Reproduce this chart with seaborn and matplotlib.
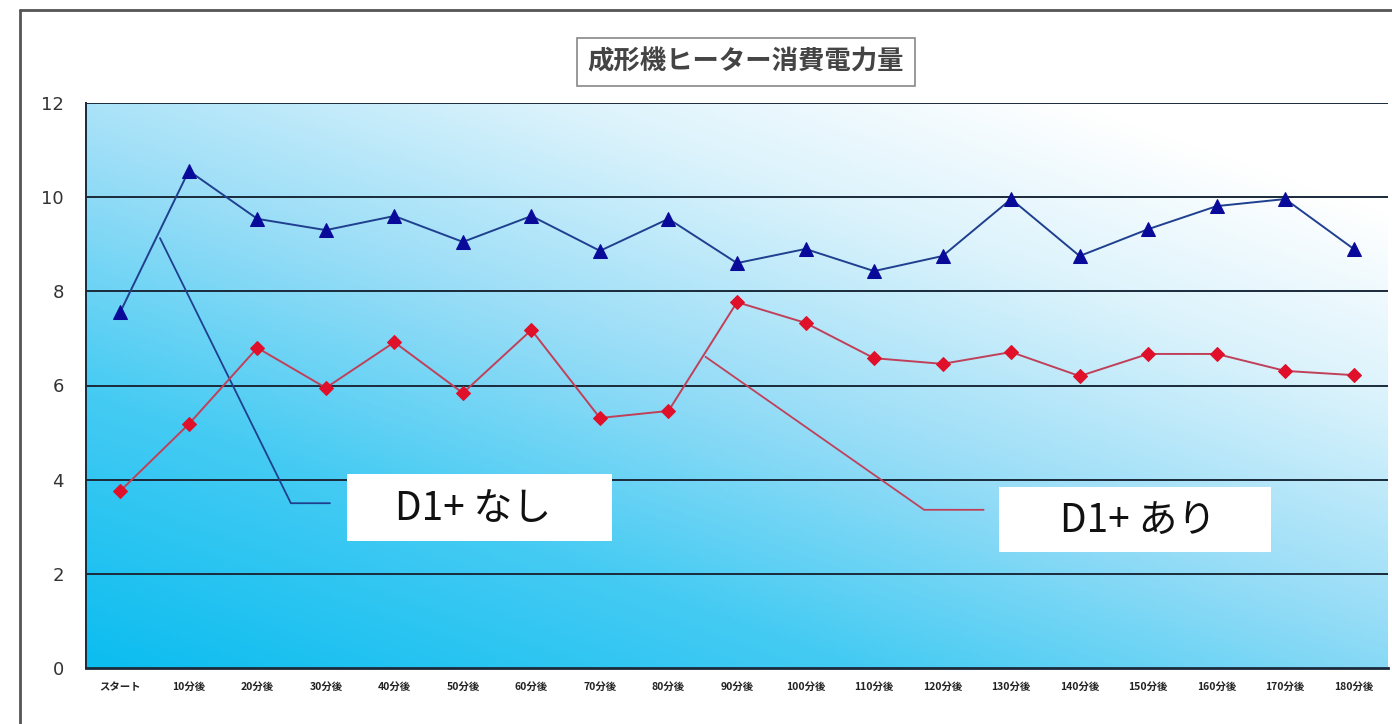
import numpy as np
import pandas as pd
import matplotlib
matplotlib.use("Agg")
import matplotlib.pyplot as plt
from matplotlib.colors import LinearSegmentedColormap
from matplotlib.lines import Line2D
from matplotlib.patches import Rectangle
import seaborn as sns

categories = ["スタート"] + [f"{m}分後" for m in range(10, 190, 10)]
without_d1 = [7.56, 10.56, 9.54, 9.30, 9.60, 9.05, 9.60, 8.86, 9.54, 8.60,
              8.90, 8.43, 8.75, 9.96, 8.75, 9.32, 9.81, 9.96, 8.90]
with_d1 = [3.76, 5.18, 6.80, 5.95, 6.92, 5.84, 7.18, 5.31, 5.46, 7.77,
           7.33, 6.58, 6.46, 6.71, 6.20, 6.67, 6.67, 6.31, 6.22]
yticks = [0, 2, 4, 6, 8, 10, 12]
title = "成形機ヒーター消費電力量"
label_without = "D1+ なし"
label_with = "D1+ あり"

sns.set_theme(style="white")
plt.rcParams["font.family"] = ["Noto Sans CJK JP", "DejaVu Sans"]

fig = plt.figure(figsize=(13.92, 7.24), dpi=100)
fig.patch.set_facecolor("white")
ax = fig.add_axes([86 / 1392, 56 / 724, 1302 / 1392, 565 / 724])

# gradient background
nx, ny = 300, 200
gx = np.linspace(0, 1, nx)
gy = np.linspace(0, 1, ny)
GX, GY = np.meshgrid(gx, gy)
G = np.clip(0.55 * GX + 0.68 * GY, 0, 1.1) / 1.1
cmap = LinearSegmentedColormap.from_list(
    "bg", [(0.0, "#0cbdf0"), (0.3, "#45cbf3"), (0.55, "#98ddf7"),
           (0.8, "#dcf3fc"), (1.0, "#ffffff")])
ax.imshow(G, cmap=cmap, origin="lower", extent=[0, 1, 0, 1],
          transform=ax.transAxes, aspect="auto", zorder=0)

df = pd.DataFrame({"pos": np.arange(len(categories)),
                   "なし": without_d1, "あり": with_d1})

sns.lineplot(data=df, x="pos", y="なし", ax=ax, color="#1f3f8f", lw=1.4,
             marker="^", markersize=10, markerfacecolor="#0a0a9a",
             markeredgecolor="#0a0a9a", zorder=4)
sns.lineplot(data=df, x="pos", y="あり", ax=ax, color="#c0405a", lw=1.4,
             marker="D", markersize=7, markerfacecolor="#e0102a",
             markeredgecolor="#e0102a", zorder=4)

ax.set_xlim(-0.5, len(categories) - 0.5)
ax.set_ylim(0, 12)
ax.set_yticks(yticks)
ax.set_yticklabels([str(v) for v in yticks], fontsize=13, color="#333333",
                   family="DejaVu Sans")
ax.set_xticks(np.arange(len(categories)))
ax.set_xticklabels(categories, fontsize=7.5, color="#222222", fontweight="bold")
ax.tick_params(axis="y", length=0, pad=16)
ax.tick_params(axis="x", length=0, pad=10)
ax.set_xlabel("")
ax.set_ylabel("")
for v in yticks[1:]:
    ax.axhline(v, color="#1a2a3a", lw=1.4, zorder=2)
for s in ["top", "right"]:
    ax.spines[s].set_visible(False)
ax.spines["left"].set_color("#1a2a3a")
ax.spines["left"].set_linewidth(1.4)
ax.spines["bottom"].set_color("#1a2a3a")
ax.spines["bottom"].set_linewidth(2)

# leader lines
ax.plot([0.58, 2.49, 3.06], [9.13, 3.50, 3.50], color="#1f3f8f", lw=1.3, zorder=3)
ax.plot([8.54, 11.73, 12.6], [6.61, 3.36, 3.36], color="#c0405a", lw=1.3, zorder=3)

# label boxes
ax.add_patch(Rectangle((3.31, 2.70), 3.86, 1.42, fc="white", ec="none", zorder=5))
ax.add_patch(Rectangle((12.83, 2.46), 3.96, 1.38, fc="white", ec="none", zorder=5))
ax.text(5.15, 3.38, label_without, fontsize=28, ha="center", va="center",
        color="#111111", zorder=6)
ax.text(14.85, 3.12, label_with, fontsize=28, ha="center", va="center",
        color="#111111", zorder=6)

fig.text(746 / 1392, 1 - 62 / 724, title, fontsize=19, fontweight="bold",
         color="#444444", ha="center", va="center",
         bbox=dict(boxstyle="square,pad=0.4", fc="white", ec="#888888", lw=1.2))

# outer frame
fig.add_artist(Line2D([20 / 1392, 20 / 1392], [0, 1 - 10 / 724],
                      transform=fig.transFigure, color="#555555", lw=2))
fig.add_artist(Line2D([20 / 1392, 1], [1 - 10 / 724, 1 - 10 / 724],
                      transform=fig.transFigure, color="#555555", lw=2))

fig.savefig("out.png", dpi=100)
